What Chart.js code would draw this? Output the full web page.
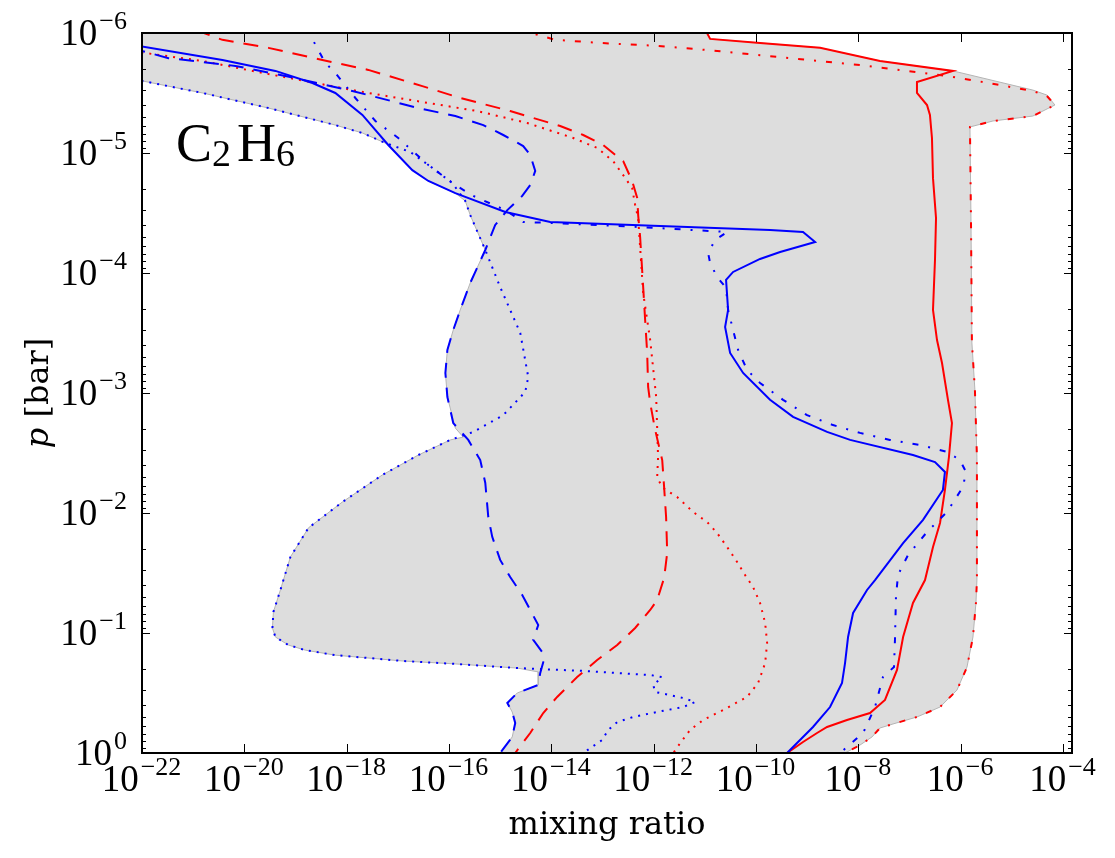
<!DOCTYPE html>
<html>
<head>
<meta charset="utf-8">
<script src="https://cdn.jsdelivr.net/npm/chart.js@4.4.1/dist/chart.umd.min.js"></script>
<style>
  html, body { margin: 0; padding: 0; background: #fff; }
  #wrap { width: 1115px; height: 858px; }
</style>
</head>
<body>
<div id="wrap"><canvas id="chart" width="1115" height="858"></canvas></div>
<script>
// each profile is a list of [mixing ratio, pressure in bar]
const blueSolid = [
  [8.5e-23, 1.28e-6], [3.73e-21, 1.68e-6], [4.05e-20, 2.07e-6], [2.14e-19, 2.61e-6], [6.0e-19, 3.16e-6],
  [2.03e-18, 4.82e-6], [6.5e-18, 8.58e-6], [1.92e-17, 1.39e-5], [3.95e-17, 1.71e-5], [1.33e-16, 2.16e-5],
  [1.26e-15, 3.1e-5], [9.5e-15, 3.76e-5], [1.88e-10, 4.38e-5], [8.3e-10, 4.55e-5], [1.43e-9, 5.52e-5],
  [2.96e-10, 6.68e-5], [1.2e-10, 7.64e-5], [3.57e-11, 9.8e-5], [2.6e-11, 1.14e-4], [2.85e-11, 2.03e-4],
  [2.49e-11, 2.82e-4], [3.12e-11, 4.64e-4], [5.6e-11, 6.81e-4], [1.88e-10, 1.14e-3], [5.3e-10, 1.58e-3],
  [2.45e-9, 2.11e-3], [6.9e-9, 2.46e-3], [1.17e-7, 3.29e-3], [3.15e-7, 3.76e-3], [4.93e-7, 4.55e-3],
  [4.5e-7, 6.43e-3], [1.84e-7, 1.14e-2], [7.5e-8, 1.78e-2], [2.12e-8, 3.62e-2], [1.48e-8, 4.38e-2],
  [7.9e-9, 6.81e-2], [6.3e-9, 0.108], [5.5e-9, 0.178], [4.8e-9, 0.261], [2.8e-9, 0.414],
  [1.3e-9, 0.607], [4.05e-10, 1.0]
];
const blueDashed = [
  [5.96e-23, 1.33e-6], [3.3e-22, 1.62e-6], [6.7e-21, 1.88e-6], [6.35e-20, 2.28e-6], [1.29e-18, 3.04e-6],
  [2.51e-17, 4.22e-6], [1.33e-16, 4.92e-6], [4.68e-16, 5.85e-6], [1.15e-15, 7.08e-6], [2.82e-15, 8.75e-6],
  [3.87e-15, 1.04e-5], [4.85e-15, 1.41e-5], [3.87e-15, 1.85e-5], [2.7e-15, 2.28e-5], [1.38e-15, 2.99e-5],
  [8.0e-16, 3.98e-5], [5.12e-16, 6.43e-5], [2.6e-16, 1.21e-4], [1.66e-16, 2.03e-4], [1.21e-16, 2.99e-4],
  [9.3e-17, 4.38e-4], [8.5e-17, 6.81e-4], [9.3e-17, 1.08e-3], [1.21e-16, 1.78e-3], [2.38e-16, 2.46e-3],
  [4.08e-16, 3.62e-3], [5.12e-16, 5.62e-3], [5.86e-16, 1.08e-2], [7.0e-16, 1.58e-2], [1.0e-15, 2.46e-2],
  [1.57e-15, 3.42e-2], [2.7e-15, 4.82e-2], [3.87e-15, 6.43e-2], [5.55e-15, 8.58e-2], [4.43e-15, 0.114],
  [6.64e-15, 0.144], [6.95e-15, 0.175], [6.07e-15, 0.215], [5.55e-15, 0.271], [2.16e-15, 0.316],
  [1.38e-15, 0.383], [1.72e-15, 0.455], [1.97e-15, 0.562], [1.72e-15, 0.735], [1.0e-15, 1.0]
];
const blueDotted = [
  [4.77e-23, 2.42e-6], [1.02e-22, 2.51e-6], [1.52e-21, 3.16e-6], [2.96e-20, 4.22e-6], [6.0e-19, 5.85e-6],
  [2.03e-18, 6.81e-6], [5.7e-18, 8.25e-6], [1.75e-17, 9.8e-6], [4.72e-17, 1.33e-5], [1.16e-16, 1.78e-5],
  [2.08e-16, 2.51e-5], [2.6e-16, 3.29e-5], [5.12e-16, 6.43e-5], [1.0e-15, 1.31e-4], [2.47e-15, 3.16e-4],
  [3.54e-15, 7.36e-4], [3.09e-15, 9.8e-4], [1.15e-15, 1.53e-3], [2.99e-16, 2.11e-3], [1.06e-16, 2.46e-3],
  [2.51e-17, 3.29e-3], [4.98e-18, 4.82e-3], [8.24e-19, 8.1e-3], [1.79e-19, 1.33e-2], [7.94e-20, 2.33e-2],
  [5.07e-20, 4.38e-2], [3.7e-20, 6.68e-2], [3.54e-20, 9.08e-2], [4.05e-20, 0.108], [7.26e-20, 0.126],
  [1.56e-19, 0.139], [6.0e-19, 0.153], [1.22e-17, 0.171], [1.33e-16, 0.181], [2.16e-15, 0.196],
  [4.2e-14, 0.207], [8.55e-13, 0.224], [1.47e-12, 0.233], [9.8e-13, 0.271], [1.07e-12, 0.31],
  [3.77e-12, 0.348], [6.47e-12, 0.376], [3.77e-12, 0.414], [1.17e-12, 0.455], [3.98e-13, 0.501],
  [1.94e-13, 0.552], [1.29e-13, 0.643], [9.86e-14, 0.779], [4.2e-14, 1.0]
];
const blueDashDot = [
  [1.63e-19, 9.1e-7], [3.84e-19, 1.78e-6], [6.0e-19, 2.15e-6], [1.48e-18, 3.48e-6], [3.64e-18, 5.41e-6],
  [1.02e-17, 7.5e-6], [3.95e-17, 1.26e-5], [1.33e-16, 1.85e-5], [2.99e-16, 2.28e-5], [1.26e-15, 2.99e-5],
  [2.82e-15, 3.76e-5], [1.09e-14, 3.83e-5], [5.44e-13, 4.14e-5], [2.73e-11, 4.55e-5], [1.59e-11, 5.31e-5],
  [1.16e-11, 6.81e-5], [1.27e-11, 8.25e-5], [1.74e-11, 1.08e-4], [2.6e-11, 1.33e-4], [2.85e-11, 2.03e-4],
  [3.57e-11, 2.99e-4], [4.47e-11, 4.38e-4], [6.7e-11, 6.43e-4], [1.2e-10, 8.25e-4], [3.38e-10, 1.14e-3],
  [9.95e-10, 1.53e-3], [3.2e-9, 1.85e-3], [1.08e-8, 2.15e-3], [4.16e-8, 2.46e-3], [1.6e-7, 2.71e-3],
  [5.4e-7, 3.1e-3], [9.7e-7, 3.62e-3], [1.27e-6, 4.55e-3], [1.11e-6, 6.07e-3], [5.4e-7, 9.8e-3],
  [2.2e-7, 1.44e-2], [9.35e-8, 2.24e-2], [5.96e-8, 3.29e-2], [5.44e-8, 5.01e-2], [5.2e-8, 0.114],
  [4.98e-8, 0.192], [3.03e-8, 0.233], [2.12e-8, 0.414], [1.24e-8, 0.681], [4.4e-9, 1.0]
];
const redSolid = [
  [8.1e-12, 7.8e-7], [1.27e-11, 1.12e-6], [1.2e-10, 1.21e-6], [1.79e-9, 1.33e-6], [2.65e-8, 1.71e-6],
  [7.08e-7, 2.07e-6], [1.4e-7, 2.56e-6], [1.4e-7, 3.16e-6], [2.2e-7, 3.98e-6], [2.51e-7, 4.82e-6],
  [2.75e-7, 7.5e-6], [2.88e-7, 1.62e-5], [3.3e-7, 3.48e-5], [3.15e-7, 7.8e-5], [2.88e-7, 2.03e-4],
  [3.45e-7, 3.62e-4], [4.32e-7, 5.62e-4], [5.65e-7, 1.14e-3], [6.76e-7, 1.78e-3], [5.9e-7, 3.42e-3],
  [4.93e-7, 6.43e-3], [3.95e-7, 1.21e-2], [2.88e-7, 1.92e-2], [2.01e-7, 3.62e-2], [1.17e-7, 5.62e-2],
  [7.5e-8, 0.108], [5.7e-8, 0.203], [3.32e-8, 0.361], [1.69e-8, 0.464], [6.0e-9, 0.531],
  [2.45e-9, 0.607], [1.56e-9, 0.681], [8.3e-10, 0.81], [4.05e-10, 1.0]
];
const redDashed = [
  [1.11e-21, 9.44e-7], [3.73e-21, 1.14e-6], [2.96e-20, 1.33e-6], [3.35e-19, 1.68e-6], [2.65e-18, 2.03e-6],
  [3.01e-17, 2.77e-6], [1.66e-16, 3.48e-6], [1.57e-15, 4.47e-6], [1.49e-14, 5.96e-6], [4.2e-14, 7.08e-6],
  [1.03e-13, 8.58e-6], [2.54e-13, 1.17e-5], [3.8e-13, 1.71e-5], [4.77e-13, 2.37e-5], [4.98e-13, 3.29e-5],
  [5.44e-13, 5.01e-5], [6.24e-13, 1.31e-4], [6.82e-13, 2.47e-4], [7.47e-13, 4.64e-4], [7.8e-13, 8.91e-4],
  [8.55e-13, 1.21e-3], [1.07e-12, 2.03e-3], [1.47e-12, 3.62e-3], [1.6e-12, 6.07e-3], [1.75e-12, 1.08e-2],
  [1.84e-12, 2.15e-2], [1.6e-12, 3.48e-2], [1.17e-12, 5.31e-2], [8.55e-13, 6.43e-2], [4.35e-13, 9.08e-2],
  [1.94e-13, 0.126], [7.87e-14, 0.168], [3.2e-14, 0.233], [1.3e-14, 0.341], [6.95e-15, 0.464],
  [3.87e-15, 0.681], [1.97e-15, 1.0]
];
const redDotted = [
  [4.77e-23, 1.39e-6], [1.17e-22, 1.47e-6], [1.52e-21, 1.71e-6], [2.26e-20, 2.15e-6], [2.45e-19, 2.61e-6],
  [2.65e-18, 3.16e-6], [3.95e-17, 3.83e-6], [3.57e-16, 4.47e-6], [3.38e-15, 5.62e-6], [2.68e-14, 7.5e-6],
  [7.87e-14, 9.08e-6], [1.62e-13, 1.17e-5], [2.54e-13, 1.53e-5], [3.8e-13, 1.96e-5], [4.35e-13, 2.71e-5],
  [4.98e-13, 3.48e-5], [6.24e-13, 1.47e-4], [8.55e-13, 3.62e-4], [1.12e-12, 1.08e-3], [1.22e-12, 3.42e-3],
  [1.17e-12, 5.1e-3], [1.53e-12, 6.19e-3], [2.88e-12, 7.36e-3], [5.9e-12, 9.8e-3], [1.11e-11, 1.19e-2],
  [1.74e-11, 1.47e-2], [2.73e-11, 1.92e-2], [4.28e-11, 2.56e-2], [6.12e-11, 3.29e-2], [8.77e-11, 4.14e-2],
  [1.2e-10, 5.62e-2], [1.51e-10, 8.25e-2], [1.65e-10, 0.121], [1.51e-10, 0.178], [1.1e-10, 0.261],
  [6.7e-11, 0.341], [2.28e-11, 0.438], [9.27e-12, 0.531], [5.16e-12, 0.643], [3.3e-12, 0.826],
  [2.42e-12, 1.0]
];
const redDashDot = [
  [2.47e-15, 9.44e-7], [1.19e-14, 1.14e-6], [9.0e-14, 1.21e-6], [1.17e-12, 1.28e-6], [1.74e-11, 1.41e-6],
  [1.2e-10, 1.53e-6], [1.08e-8, 1.85e-6], [5.4e-7, 2.28e-6], [2.08e-6, 2.51e-6], [2.58e-5, 3.04e-6],
  [4.85e-5, 3.35e-6], [6.95e-5, 3.98e-6], [2.58e-5, 4.92e-6], [4.28e-6, 5.41e-6], [1.52e-6, 6.07e-6],
  [1.59e-6, 3.48e-5], [1.66e-6, 3.83e-4], [1.9e-6, 9.44e-4], [2.08e-6, 3.42e-3], [2.08e-6, 3.62e-2],
  [1.99e-6, 5.62e-2], [1.74e-6, 0.108], [1.33e-6, 0.192], [8.47e-7, 0.299], [3.95e-7, 0.414],
  [1.4e-7, 0.501], [4.76e-8, 0.573], [2.65e-8, 0.619], [1.85e-8, 0.735], [1.08e-8, 0.858],
  [5.5e-9, 1.0]
];

// grey band: left (smallest) and right (largest) edge of all profiles, top to bottom
const bandLeft = [
  [3.8e-23, 7.8e-7], [4.77e-23, 2.42e-6], [1.02e-22, 2.51e-6], [1.52e-21, 3.16e-6], [2.96e-20, 4.22e-6],
  [6.0e-19, 5.85e-6], [2.03e-18, 6.81e-6], [6.24e-18, 8.41e-6], [1.92e-17, 1.39e-5], [3.95e-17, 1.71e-5],
  [1.33e-16, 2.16e-5], [2.08e-16, 2.51e-5], [2.6e-16, 3.29e-5], [5.12e-16, 6.43e-5], [2.6e-16, 1.21e-4],
  [1.66e-16, 2.03e-4], [1.21e-16, 2.99e-4], [9.3e-17, 4.38e-4], [8.5e-17, 6.81e-4], [9.3e-17, 1.08e-3],
  [1.33e-16, 1.96e-3], [1.9e-16, 2.33e-3], [1.06e-16, 2.46e-3], [2.51e-17, 3.29e-3], [4.98e-18, 4.82e-3],
  [8.24e-19, 8.1e-3], [1.79e-19, 1.33e-2], [7.94e-20, 2.33e-2], [5.07e-20, 4.38e-2], [3.7e-20, 6.68e-2],
  [3.54e-20, 9.08e-2], [4.05e-20, 0.108], [7.26e-20, 0.126], [1.56e-19, 0.139], [6.0e-19, 0.153],
  [1.22e-17, 0.171], [1.33e-16, 0.181], [2.16e-15, 0.196], [5.55e-15, 0.211], [5.55e-15, 0.271],
  [2.16e-15, 0.316], [1.38e-15, 0.383], [1.72e-15, 0.455], [1.97e-15, 0.562], [1.72e-15, 0.735],
  [1.0e-15, 1.0]
];
const bandRight = [
  [8.1e-12, 7.8e-7], [1.27e-11, 1.12e-6], [1.2e-10, 1.21e-6], [1.79e-9, 1.33e-6], [2.65e-8, 1.71e-6],
  [7.08e-7, 2.07e-6], [2.58e-5, 2.99e-6], [4.85e-5, 3.29e-6], [6.95e-5, 3.98e-6], [2.58e-5, 4.92e-6],
  [4.28e-6, 5.41e-6], [1.52e-6, 6.07e-6], [1.59e-6, 3.48e-5], [1.66e-6, 3.83e-4], [1.9e-6, 9.44e-4],
  [2.08e-6, 3.42e-3], [2.08e-6, 3.62e-2], [1.99e-6, 5.62e-2], [1.74e-6, 0.108], [1.33e-6, 0.192],
  [8.47e-7, 0.299], [3.95e-7, 0.414], [1.4e-7, 0.501], [4.76e-8, 0.573], [2.65e-8, 0.619],
  [1.85e-8, 0.735], [1.08e-8, 0.858], [5.5e-9, 1.0]
];

const xTickValues = [1e-22, 1e-20, 1e-18, 1e-16, 1e-14, 1e-12, 1e-10, 1e-8, 1e-6, 1e-4];
const yTickValues = [1e-6, 1e-5, 1e-4, 1e-3, 1e-2, 1e-1, 1e0];
const xMin = 1e-22, xMax = 1.5e-4;
const yMin = 1e-6, yMax = 1;

const BLUE = '#0000ff', RED = '#ff0000';
const SOLID = [], DASHED = [15, 10], DOTTED = [2, 6], DASHDOT = [6, 10, 2, 10];

function toPoints(list) {
  return list.map(d => ({ x: d[0], y: d[1] }));
}

function profile(list, color, dash) {
  return {
    data: toPoints(list),
    borderColor: color,
    borderWidth: 2,
    borderDash: dash,
    pointRadius: 0,
    fill: false,
    tension: 0,
    clip: 0
  };
}

const band = {
  data: toPoints(bandLeft.concat(bandRight.slice().reverse())),
  borderColor: '#b4b4b4',
  borderWidth: 1,
  backgroundColor: '#dddddd',
  fill: 'shape',
  pointRadius: 0,
  tension: 0,
  clip: 0,
  order: 100
};

function expText(v) {
  const e = Math.round(Math.log10(v));
  return e < 0 ? '\u2212' + Math.abs(e) : String(e);
}

const SERIF_MATH = '"Liberation Serif", serif';
const SERIF = '"DejaVu Serif", serif';

const axisDecor = {
  id: 'axisDecor',
  afterDraw(chart) {
    const ctx = chart.ctx;
    const a = chart.chartArea;
    const xs = chart.scales.x, ys = chart.scales.y;
    ctx.save();

    // tick marks, inside the box on all four sides
    ctx.strokeStyle = '#000';
    ctx.lineWidth = 1;
    ctx.beginPath();
    xTickValues.forEach(v => {
      const px = Math.round(xs.getPixelForValue(v)) + 0.5;
      ctx.moveTo(px, a.bottom); ctx.lineTo(px, a.bottom - 9);
      ctx.moveTo(px, a.top); ctx.lineTo(px, a.top + 9);
    });
    yTickValues.forEach((v, i) => {
      let py = Math.round(ys.getPixelForValue(v)) + 0.5;
      ctx.moveTo(a.left, py); ctx.lineTo(a.left + 8, py);
      ctx.moveTo(a.right, py); ctx.lineTo(a.right - 8, py);
      if (i < yTickValues.length - 1) {
        for (let m = 2; m <= 9; m++) {
          py = Math.round(ys.getPixelForValue(v * m)) + 0.5;
          ctx.moveTo(a.left, py); ctx.lineTo(a.left + 4, py);
          ctx.moveTo(a.right, py); ctx.lineTo(a.right - 4, py);
        }
      }
    });
    ctx.stroke();

    ctx.lineWidth = 2;
    ctx.strokeRect(a.left, a.top, a.right - a.left, a.bottom - a.top);

    // tick labels 10^n
    ctx.fillStyle = '#000';
    ctx.textBaseline = 'alphabetic';
    ctx.textAlign = 'left';
    const baseFont = '37px ' + SERIF_MATH, supFont = '26px ' + SERIF_MATH;
    function pow10(v, x, y, align) {
      ctx.font = baseFont;
      const w1 = ctx.measureText('10').width;
      ctx.font = supFont;
      const s = expText(v);
      const w2 = ctx.measureText(s).width + 3;
      const left = align === 'center' ? x - (w1 + w2) / 2 : x - w1 - w2;
      ctx.font = baseFont;
      ctx.fillText('10', left, y);
      ctx.font = supFont;
      ctx.fillText(s, left + w1 + 2, y - 16);
    }
    xTickValues.forEach(v => pow10(v, xs.getPixelForValue(v), a.bottom + 38, 'center'));
    yTickValues.forEach(v => pow10(v, a.left - 14, ys.getPixelForValue(v) + 12, 'right'));

    // axis titles
    ctx.font = '32px ' + SERIF;
    ctx.textAlign = 'center';
    ctx.fillText('mixing ratio', (a.left + a.right) / 2, 834);

    ctx.save();
    ctx.translate(48, (a.top + a.bottom) / 2);
    ctx.rotate(-Math.PI / 2);
    ctx.textAlign = 'left';
    ctx.font = 'italic 32px ' + SERIF;
    const wp = ctx.measureText('p').width;
    ctx.font = '32px ' + SERIF;
    const wr = ctx.measureText(' [bar]').width;
    const x0 = -(wp + wr) / 2;
    ctx.font = 'italic 32px ' + SERIF;
    ctx.fillText('p', x0, 0);
    ctx.font = '32px ' + SERIF;
    ctx.fillText(' [bar]', x0 + wp, 0);
    ctx.restore();

    // species label
    ctx.textAlign = 'left';
    let tx = 176;
    const parts = [['C', 54, 0], ['2', 38, 5], ['H', 54, 0], ['6', 38, 5]];
    parts.forEach(p => {
      ctx.font = p[1] + 'px ' + SERIF_MATH;
      ctx.fillText(p[0], tx, 161 + p[2]);
      tx += ctx.measureText(p[0]).width + (p[1] < 50 ? 6 : 0);
    });

    ctx.restore();
  }
};

new Chart(document.getElementById('chart'), {
  type: 'line',
  data: {
    datasets: [
      profile(blueSolid, BLUE, SOLID),
      profile(blueDashed, BLUE, DASHED),
      profile(blueDotted, BLUE, DOTTED),
      profile(blueDashDot, BLUE, DASHDOT),
      profile(redSolid, RED, SOLID),
      profile(redDashed, RED, DASHED),
      profile(redDotted, RED, DOTTED),
      profile(redDashDot, RED, DASHDOT),
      band
    ]
  },
  options: {
    responsive: false,
    animation: false,
    events: [],
    layout: { padding: { left: 0, right: 43, top: 33, bottom: 0 } },
    plugins: { legend: { display: false }, tooltip: { enabled: false } },
    scales: {
      x: {
        type: 'logarithmic', min: xMin, max: xMax,
        ticks: { display: false }, grid: { display: false }, border: { display: false },
        afterFit: s => { s.height = 105; }
      },
      y: {
        type: 'logarithmic', min: yMin, max: yMax, reverse: true,
        ticks: { display: false }, grid: { display: false }, border: { display: false },
        afterFit: s => { s.width = 142; }
      }
    }
  },
  plugins: [axisDecor]
});
</script>
</body>
</html>
